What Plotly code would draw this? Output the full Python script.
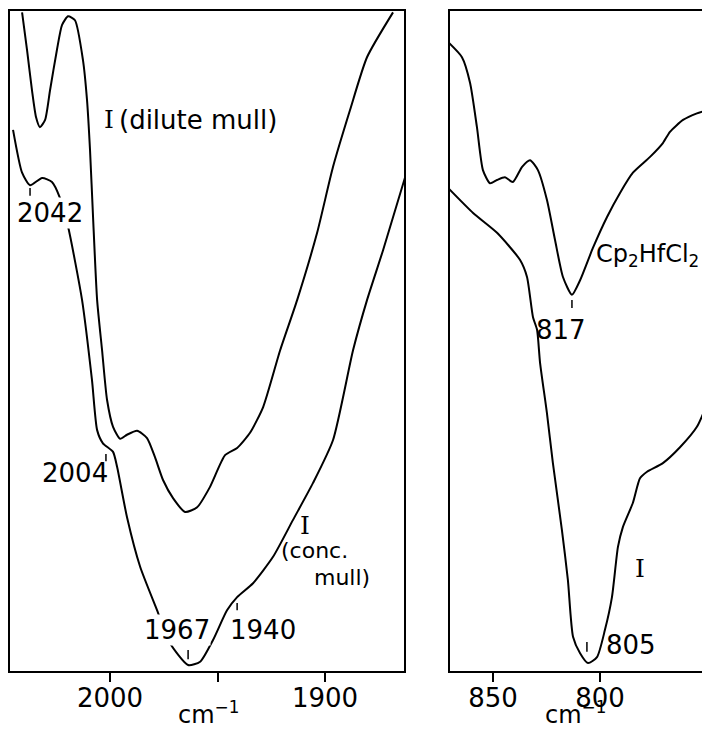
import plotly.graph_objects as go

# ---- data: left panel, wavenumber cm-1 vs relative transmittance
dilute_wn = [2040.9, 2038.6, 2036.3, 2034.4, 2032.6, 2030.2, 2027.9, 2024.7, 2022.3, 2019.5,
             2016.3, 2012.6, 2010.7, 2009.3, 2007.9, 2006.0, 2003.7, 2001.4, 1998.6, 1995.3,
             1992.1, 1987.4, 1982.8, 1979.1, 1975.3, 1970.7, 1965.1, 1959.5, 1953.5, 1946.5,
             1940.9, 1934.9, 1928.8, 1920.9, 1913.0, 1903.7, 1896.3, 1888.4, 1880.5, 1868.4]
dilute_t = [99.8, 94.1, 88.0, 83.9, 82.4, 83.5, 88.0, 94.1, 97.9, 99.2,
            98.6, 92.6, 86.5, 78.9, 68.8, 56.2, 48.6, 41.1, 37.0, 35.2,
            35.8, 36.4, 35.3, 32.4, 28.9, 26.2, 24.1, 24.8, 27.9, 32.7,
            33.8, 36.1, 40.0, 48.6, 56.2, 66.4, 76.4, 85.0, 93.0, 99.8]

conc_wn = [2045.1, 2040.9, 2037.2, 2031.6, 2027.0, 2023.3, 2019.5, 2013.0, 2008.4, 2006.0,
           2003.3, 1998.6, 1996.7, 1992.1, 1986.0, 1978.1, 1972.1, 1963.7, 1958.1, 1952.1,
           1945.6, 1940.9, 1933.5, 1924.2, 1914.9, 1905.6, 1896.3, 1887.0, 1880.5, 1873.0, 1862.8]
conc_t = [82.0, 75.5, 73.6, 74.7, 74.1, 71.7, 67.3, 56.2, 44.1, 36.5,
          34.5, 33.2, 30.9, 23.3, 15.8, 9.2, 4.2, 0.9, 1.4, 4.7,
          9.2, 11.2, 13.3, 17.3, 22.9, 28.5, 35.0, 48.6, 56.2, 63.8, 74.8]

# ---- data: right panel
cp2_wn = [871.0, 864.5, 860.7, 857.5, 854.7, 851.4, 848.1, 844.4, 840.7, 836.4,
          832.7, 829.0, 824.8, 821.0, 817.3, 813.1, 809.3, 803.3, 796.7, 790.7,
          784.6, 776.6, 770.6, 767.3, 761.2, 754.7, 749.5]
cp2_t = [95.3, 93.0, 89.1, 82.4, 75.9, 73.9, 74.4, 74.8, 74.1, 76.4,
         77.4, 75.9, 71.4, 65.3, 59.7, 57.0, 59.2, 64.1, 68.8, 72.4,
         75.5, 77.9, 80.0, 81.7, 83.5, 84.5, 85.0]

i_wn = [871.0, 859.3, 848.1, 837.4, 834.1, 831.3, 829.4, 828.0, 824.8, 822.0,
        817.8, 815.0, 812.6, 809.3, 805.6, 801.4, 797.7, 794.4, 791.6, 789.3,
        784.6, 781.3, 778.0, 770.6, 762.6, 754.7, 749.5]
i_t = [73.2, 69.4, 66.4, 62.3, 59.7, 53.6, 51.7, 46.7, 39.1, 31.5,
       21.4, 13.8, 5.2, 2.7, 1.2, 2.1, 6.2, 11.2, 18.8, 21.8,
       25.5, 29.2, 30.2, 31.5, 33.9, 37.0, 40.8]

left_ticks = [2000, 1950, 1900]
left_ticktext = ["2000", "", "1900"]
right_ticks = [850, 800]
right_ticktext = ["850", "800"]

FONT = "DejaVu Sans"
SERIF = "DejaVu Serif"
line = dict(color="black", width=2, shape="spline", smoothing=0.6)

fig = go.Figure()
for xs, ys, xa, ya in [(dilute_wn, dilute_t, "x", "y"), (conc_wn, conc_t, "x", "y"),
                       (cp2_wn, cp2_t, "x2", "y2"), (i_wn, i_t, "x2", "y2")]:
    fig.add_trace(go.Scatter(x=xs, y=ys, mode="lines", line=line, xaxis=xa, yaxis=ya,
                             showlegend=False, hoverinfo="skip"))

ax_common = dict(showline=True, mirror=True, linecolor="black", linewidth=2,
                 showgrid=False, zeroline=False)
yd = [0.0817, 0.9958]
xt = dict(ticks="outside", ticklen=9, tickwidth=2, tickcolor="black",
          tickfont=dict(size=26), ticklabelstandoff=-6)

fig.update_layout(
    width=702, height=722,
    margin=dict(l=0, r=0, t=0, b=0),
    paper_bgcolor="white", plot_bgcolor="white",
    font=dict(family=FONT, color="black", size=26),
    xaxis=dict(domain=[0.0029, 0.5641], range=[2046.5, 1863.3], anchor="y",
               tickmode="array", tickvals=left_ticks, ticktext=left_ticktext,
               **xt, **ax_common),
    yaxis=dict(domain=yd, range=[0, 100], anchor="x", showticklabels=False, ticks="",
               **ax_common),
    xaxis2=dict(domain=[0.6296, 0.9972], range=[870.1, 749.5], anchor="y2",
                tickmode="array", tickvals=right_ticks, ticktext=right_ticktext,
                **xt, **ax_common),
    yaxis2=dict(domain=yd, range=[0, 100], anchor="x2", showticklabels=False, ticks="",
                **ax_common),
)

def ann(text, x, y, xref="x", yref="y", xanchor="center", bg=None, size=26, family=FONT,
        yanchor="middle"):
    a = dict(text=text, x=x, y=y, xref=xref, yref=yref, xanchor=xanchor,
             yanchor=yanchor, showarrow=False,
             font=dict(size=size, family=family, color="black"), borderpad=0)
    if bg:
        a["bgcolor"] = bg
    fig.add_annotation(**a)

# left panel labels
ann("I", 2003.3, 83.5, xanchor="left", family=SERIF, size=25)
ann("(dilute mull)", 1996.5, 83.5, xanchor="left")
ann("2042", 2027.9, 69.4, bg="white")
ann("2004", 2016.3, 30.0)
ann("1967", 1968.8, 6.2, bg="white")
ann("1940", 1928.8, 6.2)
ann("I", 1909.3, 22.0, family=SERIF, size=25)
ann("(conc.", 1920.9, 16.2, xanchor="left", size=22, yanchor="bottom")
ann("mull)", 1905.6, 16.2, xanchor="left", size=22, yanchor="top")

# right panel labels
ann("Cp<sub>2</sub>HfCl<sub>2</sub>", 802.3, 63.0, xref="x2", yref="y2", xanchor="left", size=24)
ann("817", 818.2, 51.7, xref="x2", yref="y2")
ann("I", 781.3, 15.5, xref="x2", yref="y2", family=SERIF, size=25)
ann("805", 785.5, 3.9, xref="x2", yref="y2")

# axis titles
ann("cm<sup>−1</sup>", 0.285, 0.0, xref="paper", yref="paper", size=24, yanchor="bottom")
ann("cm<sup>−1</sup>", 0.808, 0.0, xref="paper", yref="paper", size=24, yanchor="bottom")

# small peak marker ticks
peak_marks = [("x", "y", 2037.2, 73.2, 72.0), ("x", "y", 2001.9, 32.9, 31.8),
              ("x", "y", 1963.7, 3.2, 1.8), ("x", "y", 1940.9, 10.3, 9.2),
              ("x2", "y2", 813.1, 56.2, 55.0), ("x2", "y2", 806.1, 4.4, 2.9)]
for xr, yr, xv, y0, y1 in peak_marks:
    fig.add_shape(type="line", xref=xr, yref=yr, x0=xv, x1=xv, y0=y0, y1=y1,
                  line=dict(color="black", width=1.5))

fig.write_html("out.html")
